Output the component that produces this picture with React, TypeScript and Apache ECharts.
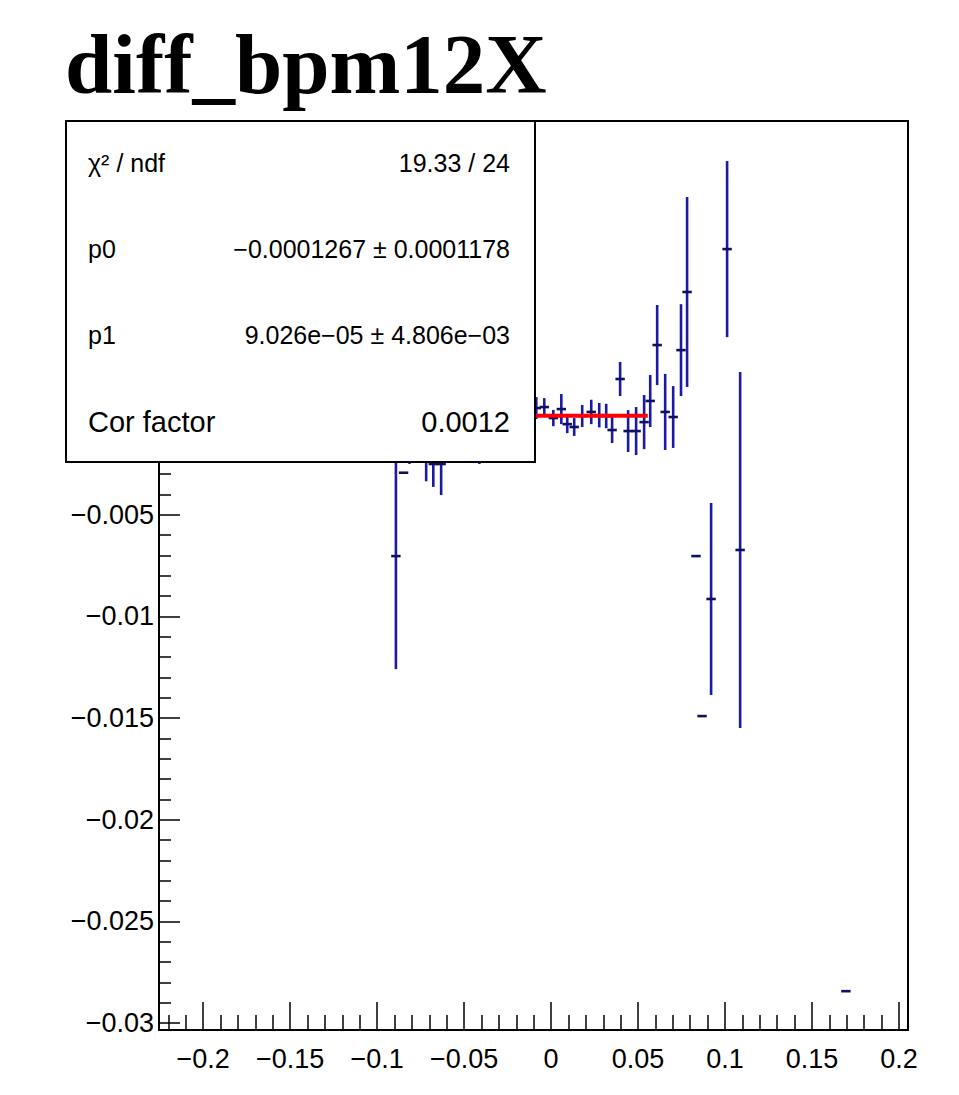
import React, { useEffect, useRef } from "react";
import * as echarts from "echarts";

// ---- data ----
const pointX = [
  -0.0892, -0.0848, -0.0814, -0.0718, -0.0677, -0.0632, -0.0412,
  -0.0085, -0.0039, 0.0013, 0.0059, 0.0093, 0.0133, 0.0179, 0.0231, 0.0277,
  0.0317, 0.0351, 0.0397, 0.0443, 0.0489, 0.0535, 0.057, 0.061, 0.0656,
  0.0702, 0.0747, 0.0782, 0.0833, 0.0868, 0.092, 0.1012, 0.1087, 0.1695,
];
const pointY = [
  -0.00703, -0.00293, -0.0015, -0.0016, -0.0025, -0.0025, -0.0018,
  0.00025, 0.0003, -0.00024, 0.0002, -0.00054, -0.00068, -0.00014, 0.00006, -0.0001,
  -0.00014, -0.00083, 0.00168, -0.00088, -0.00088, -0.00044, 0.0006, 0.00335, 0.00006,
  -0.00019, 0.0031, 0.00596, -0.00703, -0.0149, -0.00914, 0.00807, -0.00673, -0.02843,
];
const pointErrY = [
  0.00556, 0, 0.001, 0.00175, 0.00113, 0.00153, 0.0007,
  0.00054, 0.00044, 0.0004, 0.00074, 0.00044, 0.00044, 0.00054, 0.0006, 0.0006,
  0.0006, 0.00064, 0.00084, 0.00103, 0.00118, 0.00133, 0.00128, 0.00197, 0.00187,
  0.00152, 0.00226, 0.00467, 0, 0, 0.00472, 0.00433, 0.00876, 0,
];
const pointErrX = [0.0027];

const fitParams = [-0.0001267, 9.026e-5]; // p0, p1
const fitRange = [-0.05, 0.0556];

const xMajorTicks = [-0.2, -0.15, -0.1, -0.05, 0, 0.05, 0.1, 0.15, 0.2];
const xMinorTicks = [
  -0.22, -0.21, -0.19, -0.18, -0.17, -0.16, -0.14, -0.13, -0.12, -0.11,
  -0.09, -0.08, -0.07, -0.06, -0.04, -0.03, -0.02, -0.01, 0.01, 0.02,
  0.03, 0.04, 0.06, 0.07, 0.08, 0.09, 0.11, 0.12, 0.13, 0.14, 0.16,
  0.17, 0.18, 0.19,
];
const yMajorTicks = [-0.03, -0.025, -0.02, -0.015, -0.01, -0.005, 0, 0.005, 0.01];
const yLabelTicks = [-0.03, -0.025, -0.02, -0.015, -0.01, -0.005];
const yMinorTicks = [
  -0.029, -0.028, -0.027, -0.026, -0.024, -0.023, -0.022, -0.021, -0.019,
  -0.018, -0.017, -0.016, -0.014, -0.013, -0.012, -0.011, -0.009, -0.008,
  -0.007, -0.006, -0.004, -0.003, -0.002, -0.001, 0.001, 0.002, 0.003,
  0.004, 0.006, 0.007, 0.008, 0.009, 0.011, 0.012, 0.013, 0.014,
];
const xRange = [-0.2254, 0.2052];
const yRange = [-0.03034, 0.01437];

const titleText = "diff_bpm12X";
const statsLabels = ["χ² / ndf", "p0", "p1", "Cor factor"];
const statsValues = [
  "19.33 / 24",
  "\u22120.0001267 ± 0.0001178",
  "9.026e\u221205 ± 4.806e\u221203",
  "0.0012",
];

const fmt = (v: number) => String(parseFloat(v.toFixed(4))).replace("-", "\u2212");

export default function App() {
  const ref = useRef<HTMLDivElement>(null);
  useEffect(() => {
    document.body.style.margin = "0";
    if (!ref.current) return;
    const chart = echarts.init(ref.current, undefined, { renderer: "svg" });
    const pts = pointX.map((x, i) => [x, pointY[i], pointErrX[0], pointErrY[i]]);
    const fitData = fitRange.map((x) => [x, fitParams[0] + fitParams[1] * x]);
    const rowY = [163, 249, 335, 422];
    const rowFont = [25, 25, 25, 29];
    const statsGraphics: any[] = [
      {
        type: "rect",
        z: 100,
        shape: { x: 66, y: 121, width: 469, height: 341 },
        style: { fill: "#fff", stroke: "#000", lineWidth: 2 },
      },
    ];
    statsLabels.forEach((t, i) => {
      statsGraphics.push({
        type: "text",
        z: 101,
        x: 88,
        y: rowY[i],
        style: {
          text: t,
          fill: "#000",
          font: `${rowFont[i]}px "Liberation Sans", Arial, sans-serif`,
          align: "left",
          verticalAlign: "middle",
        },
      });
      statsGraphics.push({
        type: "text",
        z: 101,
        x: 510,
        y: rowY[i],
        style: {
          text: statsValues[i],
          fill: "#000",
          font: `${rowFont[i]}px "Liberation Sans", Arial, sans-serif`,
          align: "right",
          verticalAlign: "middle",
        },
      });
    });

    const labelFont = { fontSize: 27, fontFamily: "Liberation Sans", color: "#000" };
    chart.setOption({
      animation: false,
      backgroundColor: "#fff",
      grid: {
        left: 159,
        top: 121,
        width: 749,
        height: 909,
        show: true,
        borderColor: "#000",
        borderWidth: 2,
        backgroundColor: "transparent",
      },
      xAxis: [
        {
          type: "value",
          min: xRange[0],
          max: xRange[1],
          position: "bottom",
          axisLine: { show: true, onZero: false, lineStyle: { color: "#000", width: 2 } },
          axisTick: {
            show: true,
            inside: true,
            length: 28,
            customValues: xMajorTicks,
            lineStyle: { color: "#000", width: 1.5 },
          },
          axisLabel: { ...labelFont, margin: 15, customValues: xMajorTicks, formatter: fmt },
          splitLine: { show: false },
        },
        {
          type: "value",
          min: xRange[0],
          max: xRange[1],
          position: "bottom",
          axisLine: { show: false, onZero: false },
          axisTick: {
            show: true,
            inside: true,
            length: 15,
            customValues: xMinorTicks,
            lineStyle: { color: "#000", width: 1.5 },
          },
          axisLabel: { show: false },
          splitLine: { show: false },
        },
      ],
      yAxis: [
        {
          type: "value",
          min: yRange[0],
          max: yRange[1],
          position: "left",
          axisLine: { show: true, onZero: false, lineStyle: { color: "#000", width: 2 } },
          axisTick: {
            show: true,
            inside: true,
            length: 21,
            customValues: yMajorTicks,
            lineStyle: { color: "#000", width: 1.5 },
          },
          axisLabel: { ...labelFont, margin: 5, customValues: yLabelTicks, formatter: fmt },
          splitLine: { show: false },
        },
        {
          type: "value",
          min: yRange[0],
          max: yRange[1],
          position: "left",
          axisLine: { show: false, onZero: false },
          axisTick: {
            show: true,
            inside: true,
            length: 12,
            customValues: yMinorTicks,
            lineStyle: { color: "#000", width: 1.5 },
          },
          axisLabel: { show: false },
          splitLine: { show: false },
        },
      ],
      series: [
        {
          type: "custom",
          xAxisIndex: 0,
          yAxisIndex: 0,
          z: 2,
          clip: true,
          data: pts,
          encode: { x: 0, y: 1 },
          renderItem: (params: any, api: any) => {
            const x = api.value(0);
            const y = api.value(1);
            const ex = api.value(2);
            const ey = api.value(3);
            const pL = api.coord([x - ex, y]);
            const pR = api.coord([x + ex, y]);
            const children: any[] = [];
            if (ey > 0) {
              const pT = api.coord([x, y + ey]);
              const pB = api.coord([x, y - ey]);
              children.push({
                type: "line",
                shape: { x1: pT[0], y1: pT[1], x2: pB[0], y2: pB[1] },
                style: { stroke: "#1a1aa6", lineWidth: 2.6 },
              });
            }
            children.push({
              type: "line",
              shape: { x1: pL[0], y1: pL[1], x2: pR[0], y2: pR[1] },
              style: { stroke: "#101060", lineWidth: 2.6 },
            });
            return { type: "group", children };
          },
        },
        {
          type: "line",
          xAxisIndex: 0,
          yAxisIndex: 0,
          z: 3,
          data: fitData,
          symbol: "none",
          lineStyle: { color: "#ff0000", width: 4 },
        },
      ],
      graphic: [
        {
          type: "text",
          z: 101,
          x: 65,
          y: 64,
          style: {
            text: titleText,
            fill: "#000",
            font: 'bold 85px "Liberation Serif", "Times New Roman", serif',
            align: "left",
            verticalAlign: "middle",
          },
        },
        ...statsGraphics,
      ],
    });
    return () => chart.dispose();
  }, []);
  return <div ref={ref} style={{ width: 959, height: 1095 }} />;
}
